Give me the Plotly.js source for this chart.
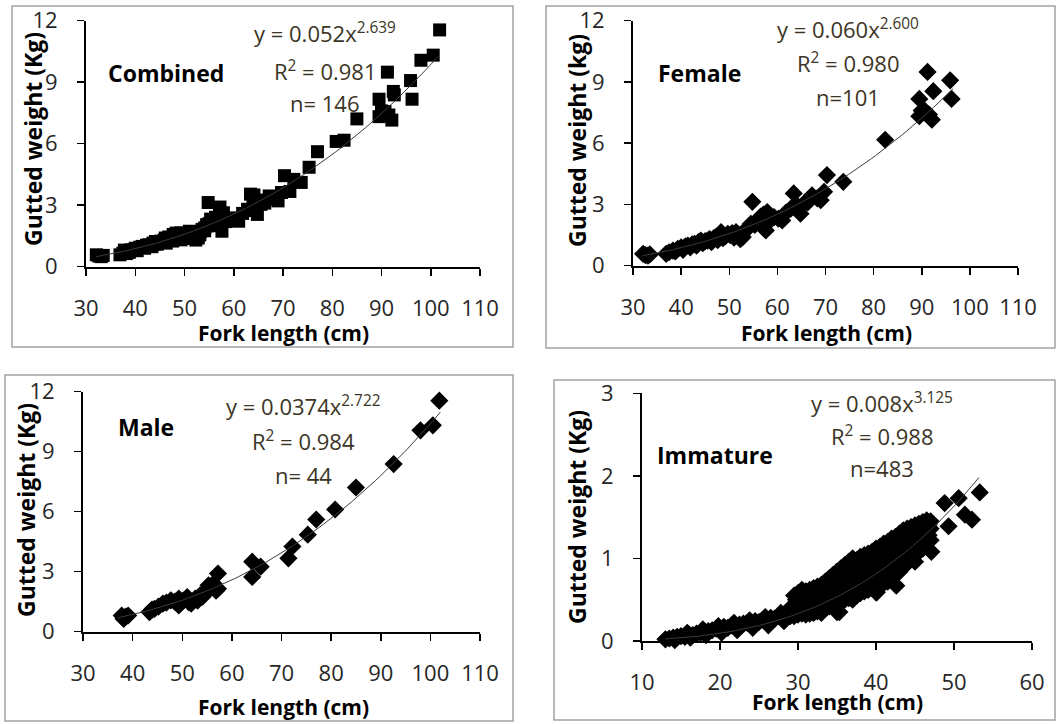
<!DOCTYPE html>
<html>
<head>
<meta charset="utf-8">
<script src="https://cdn.plot.ly/plotly-3.0.1.min.js"></script>
<style>html,body{margin:0;padding:0;background:#fff}#chart{width:1058px;height:724px}</style>
</head>
<body>
<div id="chart"></div>
<script>
// ---------------- DATA ----------------
const femalePoints = [
  [32.1,0.58],[33.1,0.49],[32.6,0.52],[33.5,0.55],
  [36.9,0.58],[37.5,0.66],[38.3,0.74],[38.8,0.70],[39.3,0.82],[40.0,0.90],[40.4,0.78],[40.9,0.95],
  [41.4,0.99],[41.9,0.90],[42.3,1.05],[42.8,1.07],[43.2,0.98],[43.6,1.15],[44.1,1.23],[44.5,1.10],
  [45.0,1.20],[45.5,1.23],[45.9,1.30],[46.3,1.15],[46.8,1.35],[47.2,1.40],[47.6,1.25],[48.0,1.50],
  [48.3,1.64],[48.7,1.35],[49.2,1.45],[49.7,1.56],[50.2,1.50],[50.6,1.60],[51.0,1.38],[51.4,1.64],
  [51.8,1.55],[52.3,1.30],[52.8,1.40],[53.2,1.70],[53.6,1.80],[54.1,1.89],[54.5,2.05],[54.8,3.13],
  [55.3,2.00],[55.9,2.22],[56.5,2.40],[57.1,2.50],[57.6,1.73],[57.9,2.63],[58.4,2.20],[59.3,2.38],
  [60.2,2.30],[61.0,2.22],[61.8,2.60],[62.8,2.80],[63.4,3.54],[63.9,3.00],[64.8,2.55],[65.5,3.04],
  [66.3,3.10],[67.2,3.45],[68.3,3.30],[69.0,3.21],[69.7,3.62],[70.3,4.44],[73.7,4.11],[82.4,6.17],
  [89.5,7.32],[89.5,8.17],[90.0,7.60],[90.7,7.57],[91.2,9.49],[91.5,7.40],[92.1,7.15],[92.4,8.55],
  [95.9,9.08],[96.2,8.17]
];
const malePoints = [
  [37.8,0.81],[38.2,0.64],[38.6,0.75],[39.1,0.81],[43.4,0.98],[43.9,1.10],[44.4,1.14],[45.2,1.25],
  [46.1,1.40],[46.8,1.45],[47.7,1.57],[48.5,1.50],[49.3,1.31],[49.3,1.65],[50.2,1.55],[51.0,1.73],
  [51.3,1.48],[51.8,1.40],[52.6,1.65],[53.1,1.55],[53.6,1.82],[54.1,1.75],[54.6,1.99],[55.0,2.10],
  [55.3,2.32],[55.8,2.20],[56.3,2.41],[56.8,2.05],[57.2,2.15],[57.2,2.91],[64.1,2.74],[64.1,3.50],
  [65.8,3.25],[71.4,3.67],[72.2,4.26],[75.3,4.85],[77.0,5.61],[80.8,6.11],[85.0,7.21],[92.6,8.38],
  [98.0,10.07],[100.5,10.32],[101.8,11.55]
];
const immaturePoints = [
  [13.0,0.02],[13.5,0.03],[14.0,0.04],[14.5,0.05],[15.0,0.06],[15.5,0.05],[16.0,0.08],[16.5,0.07],
  [17.0,0.09],[17.5,0.10],[18.0,0.11],[18.5,0.12],[19.0,0.13],[19.5,0.15],[20.0,0.14],[20.5,0.17],
  [21.0,0.16],[21.5,0.19],[22.0,0.18],[22.5,0.20],[23.0,0.21],[23.5,0.22],[24.0,0.21],[24.5,0.24],
  [25.0,0.23],[25.5,0.26],[26.0,0.25],[26.5,0.28],[27.0,0.27],[27.5,0.30],[28.0,0.29],[28.5,0.32],
  [29.0,0.30],[14.2,0.01],[16.2,0.04],[18.2,0.07],[20.2,0.10],[22.2,0.13],[24.2,0.16],[26.2,0.19],
  [28.2,0.24],[15.8,0.10],[17.8,0.14],[19.8,0.18],[21.8,0.22],[23.8,0.25],[25.8,0.29],[27.8,0.34],
  [28.8,0.38],
  [29.5,0.55],[29.5,0.42],[29.5,0.30],[30.0,0.58],[30.0,0.44],[30.0,0.32],[30.5,0.62],[30.5,0.46],
  [30.5,0.33],[31.0,0.60],[31.0,0.48],[31.0,0.32],[31.5,0.62],[31.5,0.47],[31.5,0.33],[32.0,0.64],
  [32.0,0.50],[32.0,0.34],[32.5,0.66],[32.5,0.52],[32.5,0.36],[33.0,0.68],[33.0,0.53],[33.0,0.34],
  [33.5,0.72],[33.5,0.56],[33.5,0.40],[34.0,0.76],[34.0,0.58],[34.0,0.42],[34.5,0.80],[34.5,0.62],
  [34.5,0.44],[35.0,0.84],[35.0,0.64],[35.0,0.35],[35.5,0.88],[35.5,0.68],[35.5,0.48],[36.0,0.92],
  [36.0,0.72],[36.0,0.50],[36.5,0.96],[36.5,0.74],[36.5,0.52],[37.0,1.00],[37.0,0.76],[37.0,0.50],
  [37.5,0.98],[37.5,0.80],[37.5,0.55],[38.0,1.02],[38.0,0.82],[38.0,0.58],[38.5,1.04],[38.5,0.84],
  [38.5,0.60],[39.0,1.06],[39.0,0.86],[39.0,0.62],[39.5,1.08],[39.5,0.88],[39.5,0.64],[40.0,1.12],
  [40.0,0.92],[40.0,0.59],[40.5,1.14],[40.5,0.94],[40.5,0.66],[41.0,1.18],[41.0,0.98],[41.0,0.70],
  [41.5,1.20],[41.5,1.00],[41.5,0.72],[42.0,1.24],[42.0,1.02],[42.0,0.76],[42.5,1.26],[42.5,1.06],
  [42.5,0.80],[43.0,1.30],[43.0,1.08],[43.0,0.84],[43.5,1.34],[43.5,1.12],[43.5,0.90],[44.0,1.36],
  [44.0,1.16],[44.0,0.94],[44.5,1.38],[44.5,1.20],[44.5,1.00],[45.0,1.40],[45.0,1.24],[45.0,1.04],
  [45.5,1.42],[45.5,1.28],[45.5,1.08],[46.0,1.44],[46.0,1.30],[46.0,1.12],[46.5,1.46],[46.5,1.34],
  [46.5,1.18],[47.0,1.45],[47.0,1.36],[47.0,1.22],
  [29.75,0.50],[29.75,0.36],[30.25,0.53],[30.25,0.38],[30.75,0.55],[30.75,0.40],[31.25,0.56],[31.25,0.40],
  [31.75,0.57],[31.75,0.41],[32.25,0.59],[32.25,0.43],[32.75,0.61],[32.75,0.44],[33.25,0.63],[33.25,0.46],
  [33.75,0.66],[33.75,0.48],[34.25,0.70],[34.25,0.50],[34.75,0.74],[34.75,0.52],[35.25,0.77],[35.25,0.55],
  [35.75,0.81],[35.75,0.58],[36.25,0.84],[36.25,0.61],[36.75,0.87],[36.75,0.63],[37.25,0.89],[37.25,0.65],
  [37.75,0.92],[37.75,0.68],[38.25,0.94],[38.25,0.71],[38.75,0.96],[38.75,0.73],[39.25,0.98],[39.25,0.75],
  [39.75,1.01],[39.75,0.78],[40.25,1.04],[40.25,0.80],[40.75,1.07],[40.75,0.84],[41.25,1.10],[41.25,0.86],
  [41.75,1.12],[41.75,0.88],[42.25,1.15],[42.25,0.91],[42.75,1.17],[42.75,0.94],[43.25,1.20],[43.25,0.97],
  [43.75,1.24],[43.75,1.02],[44.25,1.27],[44.25,1.06],[44.75,1.30],[44.75,1.10],[45.25,1.33],[45.25,1.15],
  [45.75,1.36],[45.75,1.19],[46.25,1.38],[46.25,1.23],[46.75,1.41],[46.75,1.28],
  [40.1,0.59],[42.6,0.67],[45.0,0.96],[47.1,1.08],[48.8,1.67],[49.3,1.39],[50.6,1.73],[51.4,1.53],
  [52.3,1.47],[53.3,1.80],[35.3,0.35],[30.8,0.55]
];
// Combined sample = females + males
const combinedPoints = femalePoints.concat(malePoints);

// Fitted power curves shown on the chart (W in g -> kg)
const fits = {
  combined: {a: 0.052,  b: 2.639, from: 32, to: 101.5},
  female:   {a: 0.060,  b: 2.600, from: 32, to: 96.5},
  male:     {a: 0.0374, b: 2.722, from: 37, to: 102},
  immature: {a: 0.008,  b: 3.125, from: 13, to: 53.2}
};
const panelLabels = ['Combined', 'Female', 'Male', 'Immature'];
const equations = ['y = 0.052x<sup>2.639</sup>', 'y = 0.060x<sup>2.600</sup>', 'y = 0.0374x<sup>2.722</sup>', 'y = 0.008x<sup>3.125</sup>'];
const r2Labels = ['R<sup>2</sup> = 0.981', 'R<sup>2</sup> = 0.980', 'R<sup>2</sup> = 0.984', 'R<sup>2</sup> = 0.988'];
const nLabels = ['n= 146', 'n=101', 'n= 44', 'n=483'];
const yTitles = ['Gutted weight (Kg)', 'Gutted weight (kg)', 'Gutted weight (Kg)', 'Gutted weight (Kg)'];
const xTitle = 'Fork length (cm)';

// ---------------- LAYOUT ----------------
const W = 1058, H = 724;
const fx = p => p / W;
const fy = p => 1 - p / H;

function curve(f) {
  const xs = [], ys = [];
  const n = 80;
  for (let i = 0; i <= n; i++) {
    const x = f.from + (f.to - f.from) * i / n;
    xs.push(x);
    ys.push(f.a * Math.pow(x, f.b) / 1000);
  }
  return {xs, ys};
}

const panels = [
  {pts: combinedPoints, fit: fits.combined, symbol: 'square',  size: 13,
   xd: [86, 480], yd: [20.7, 266.7], xr: [30, 110], yr: [0, 12], dx: 10, dy: 3,
   box: [12, 6, 513, 347], eq: [325, 33, 70, 103], lab: [166, 73], yt: [33, 139], xt: [283, 333]},
  {pts: femalePoints, fit: fits.female, symbol: 'diamond', size: 14,
   xd: [633, 1018], yd: [20.7, 265.7], xr: [30, 110], yr: [0, 12], dx: 10, dy: 3,
   box: [546, 6, 1055, 348], eq: [848, 28, 62, 97], lab: [699, 73], yt: [577, 141], xt: [826, 333]},
  {pts: malePoints, fit: fits.male, symbol: 'diamond', size: 14,
   xd: [83, 480], yd: [391.7, 631.7], xr: [30, 110], yr: [0, 12], dx: 10, dy: 3,
   box: [5, 375, 513, 721], eq: [303, 405, 440, 475], lab: [146, 427], yt: [26, 510], xt: [283, 707]},
  {pts: immaturePoints, fit: fits.immature, symbol: 'diamond', size: 14,
   xd: [642, 1032], yd: [393.3, 641], xr: [10, 60], yr: [0, 3], dx: 10, dy: 1,
   box: [554, 380, 1055, 720], eq: [882, 402, 435, 468], lab: [715, 455], yt: [577, 517], xt: [837, 702]}
];

const FONT = 'Open Sans, Lato, sans-serif';
const TICKCOL = '#262626';
const EQCOL = '#3b3526';

const traces = [];
const layout = {
  width: W, height: H, autosize: false,
  margin: {l: 0, r: 0, t: 0, b: 0, pad: 0},
  paper_bgcolor: '#ffffff', plot_bgcolor: '#ffffff',
  showlegend: false,
  font: {family: FONT, color: TICKCOL, size: 22},
  shapes: [], annotations: []
};

panels.forEach((p, i) => {
  const k = i === 0 ? '' : String(i + 1);
  const xa = 'x' + k, ya = 'y' + k;
  traces.push({
    type: 'scatter', mode: 'markers', xaxis: xa, yaxis: ya,
    x: p.pts.map(d => d[0]), y: p.pts.map(d => d[1]),
    marker: {symbol: p.symbol, size: p.size, color: '#000000', line: {width: 0}},
    cliponaxis: false, hoverinfo: 'x+y'
  });
  const c = curve(p.fit);
  traces.push({
    type: 'scatter', mode: 'lines', xaxis: xa, yaxis: ya,
    x: c.xs, y: c.ys, line: {color: '#3a3a3a', width: 1}, cliponaxis: false, hoverinfo: 'skip'
  });
  const axCommon = {
    showgrid: false, zeroline: false, showline: true, linecolor: '#000', linewidth: 2,
    ticks: 'outside', ticklen: 7, tickwidth: 1.5, tickcolor: '#000',
    tickfont: {family: FONT, size: 22, color: TICKCOL}, fixedrange: true
  };
  layout['xaxis' + k] = Object.assign({}, axCommon, {
    domain: [fx(p.xd[0]), fx(p.xd[1])], range: p.xr, dtick: p.dx, tick0: 0,
    anchor: ya, ticklabelstandoff: 14
  });
  layout['yaxis' + k] = Object.assign({}, axCommon, {
    domain: [fy(p.yd[1]), fy(p.yd[0])], range: p.yr, dtick: p.dy, tick0: 0,
    anchor: xa, ticklabelstandoff: 15
  });
  layout.shapes.push({type: 'rect', xref: 'paper', yref: 'paper', layer: 'below',
    x0: fx(p.box[0]), x1: fx(p.box[2]), y0: fy(p.box[3]), y1: fy(p.box[1]),
    line: {color: '#a3a3a3', width: 1.5}, fillcolor: 'rgba(0,0,0,0)'});
  const ann = (text, x, y, opts) => layout.annotations.push(Object.assign({
    text, xref: 'paper', yref: 'paper', x: fx(x), y: fy(y), xanchor: 'center', yanchor: 'middle',
    showarrow: false
  }, opts));
  ann(equations[i], p.eq[0], p.eq[1], {font: {family: FONT, size: 22, color: EQCOL}});
  ann(r2Labels[i], p.eq[0], p.eq[2], {font: {family: FONT, size: 22, color: EQCOL}});
  ann(nLabels[i], p.eq[0], p.eq[3], {font: {family: FONT, size: 22, color: EQCOL}});
  ann('<b>' + panelLabels[i] + '</b>', p.lab[0], p.lab[1], {font: {family: FONT, size: 23, color: '#000'}});
  ann('<b>' + yTitles[i] + '</b>', p.yt[0], p.yt[1], {textangle: -90, font: {family: FONT, size: 23, color: '#000'}});
  ann('<b>' + xTitle + '</b>', p.xt[0], p.xt[1], {font: {family: FONT, size: 21, color: '#000'}});
});

Plotly.newPlot('chart', traces, layout, {staticPlot: true, displayModeBar: false});
</script>
</body>
</html>
